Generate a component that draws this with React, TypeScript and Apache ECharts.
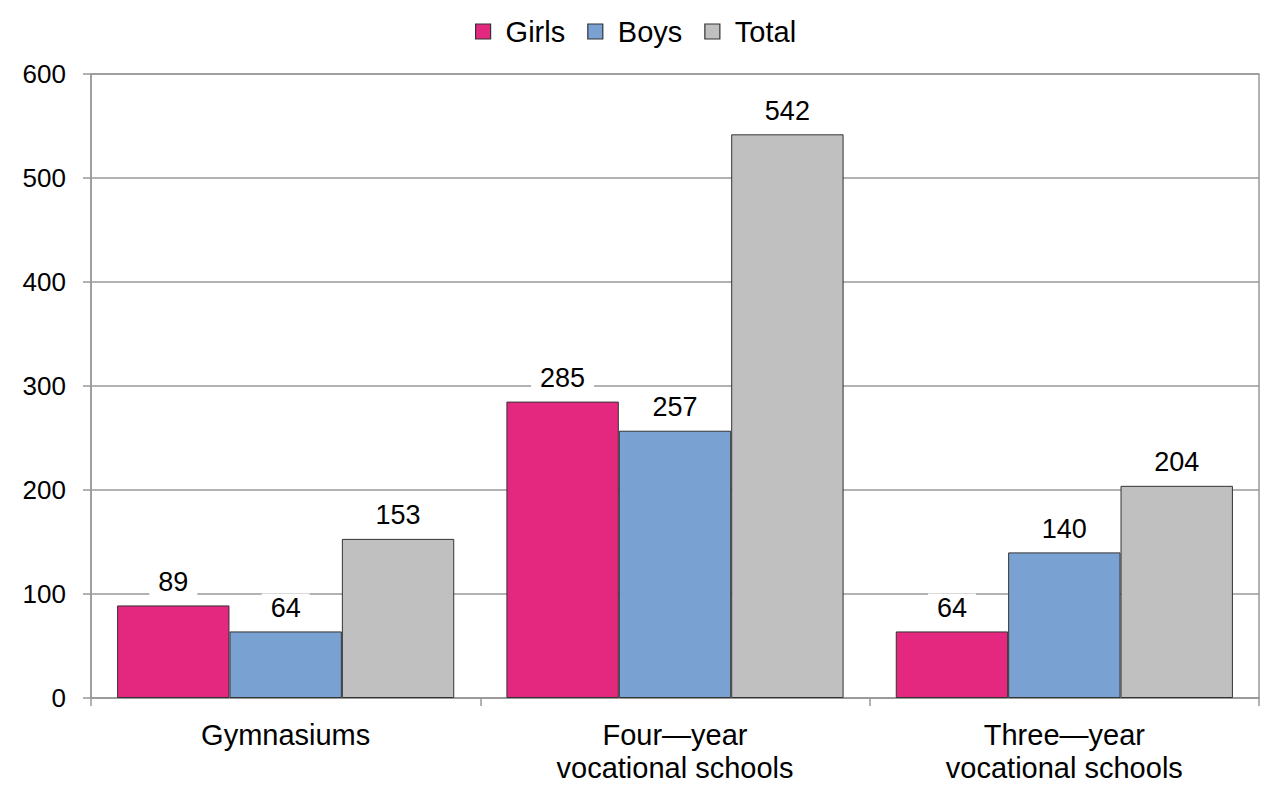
import React, { useEffect, useRef } from "react";
import * as echarts from "echarts";

const categories = ["Gymnasiums", "Four—year\nvocational schools", "Three—year\nvocational schools"];
const seriesNames = ["Girls", "Boys", "Total"];
const girls = [89, 285, 64];
const boys = [64, 257, 140];
const total = [153, 542, 204];
const colors = ["#E4287F", "#79A2D3", "#C0C0C0"];
const yTicks = { min: 0, max: 600, interval: 100 };

const FONT = "'Liberation Sans', Arial, sans-serif";

export default function App() {
  const ref = useRef<HTMLDivElement>(null);
  useEffect(() => {
    if (!ref.current) return;
    const chart = echarts.init(ref.current, undefined, { renderer: "svg" });
    const values = [girls, boys, total];
    chart.setOption({
      animation: false,
      backgroundColor: "#ffffff",
      textStyle: { fontFamily: FONT },
      legend: {
        top: 12,
        left: 470,
        itemWidth: 15,
        itemHeight: 15,
        itemGap: 22,
        icon: "rect",
        itemStyle: { borderColor: "#333", borderWidth: 1.2 },
        textStyle: { fontSize: 29, color: "#000", fontFamily: FONT, padding: [0, 0, 0, 10] },
        data: seriesNames,
      },
      grid: {
        left: 91,
        right: 20,
        top: 74,
        bottom: 90,
        show: true,
        borderColor: "#999",
        borderWidth: 1.5,
        containLabel: false,
      },
      xAxis: {
        type: "category",
        data: categories,
        axisLine: { lineStyle: { color: "#999", width: 1.5 } },
        axisTick: { show: true, length: 8, alignWithLabel: false, lineStyle: { color: "#999", width: 1.5 } },
        axisLabel: {
          color: "#000",
          fontSize: 29,
          fontFamily: FONT,
          lineHeight: 33,
          margin: 20,
          interval: 0,
        },
      },
      yAxis: {
        type: "value",
        min: yTicks.min,
        max: yTicks.max,
        interval: yTicks.interval,
        axisLine: { show: true, lineStyle: { color: "#999", width: 1.5 } },
        axisTick: { show: true, length: 8, lineStyle: { color: "#999", width: 1.5 } },
        axisLabel: { color: "#000", fontSize: 26, fontFamily: FONT, margin: 25 },
        splitLine: { show: true, lineStyle: { color: "#999", width: 1.5 } },
      },
      series: seriesNames.map((name, i) => ({
        name,
        type: "bar",
        data: values[i],
        barGap: "0%",
        barCategoryGap: "13.4%",
        itemStyle: { color: colors[i], borderColor: "#333", borderWidth: 1 },
        label: {
          show: true,
          position: "top",
          distance: 9,
          color: "#000",
          fontSize: 27,
          fontFamily: FONT,
          backgroundColor: "#ffffff",
          padding: [1, 9],
        },
      })),
    });
    return () => chart.dispose();
  }, []);
  return <div ref={ref} style={{ width: 1279, height: 788, margin: -8 }} />;
}
